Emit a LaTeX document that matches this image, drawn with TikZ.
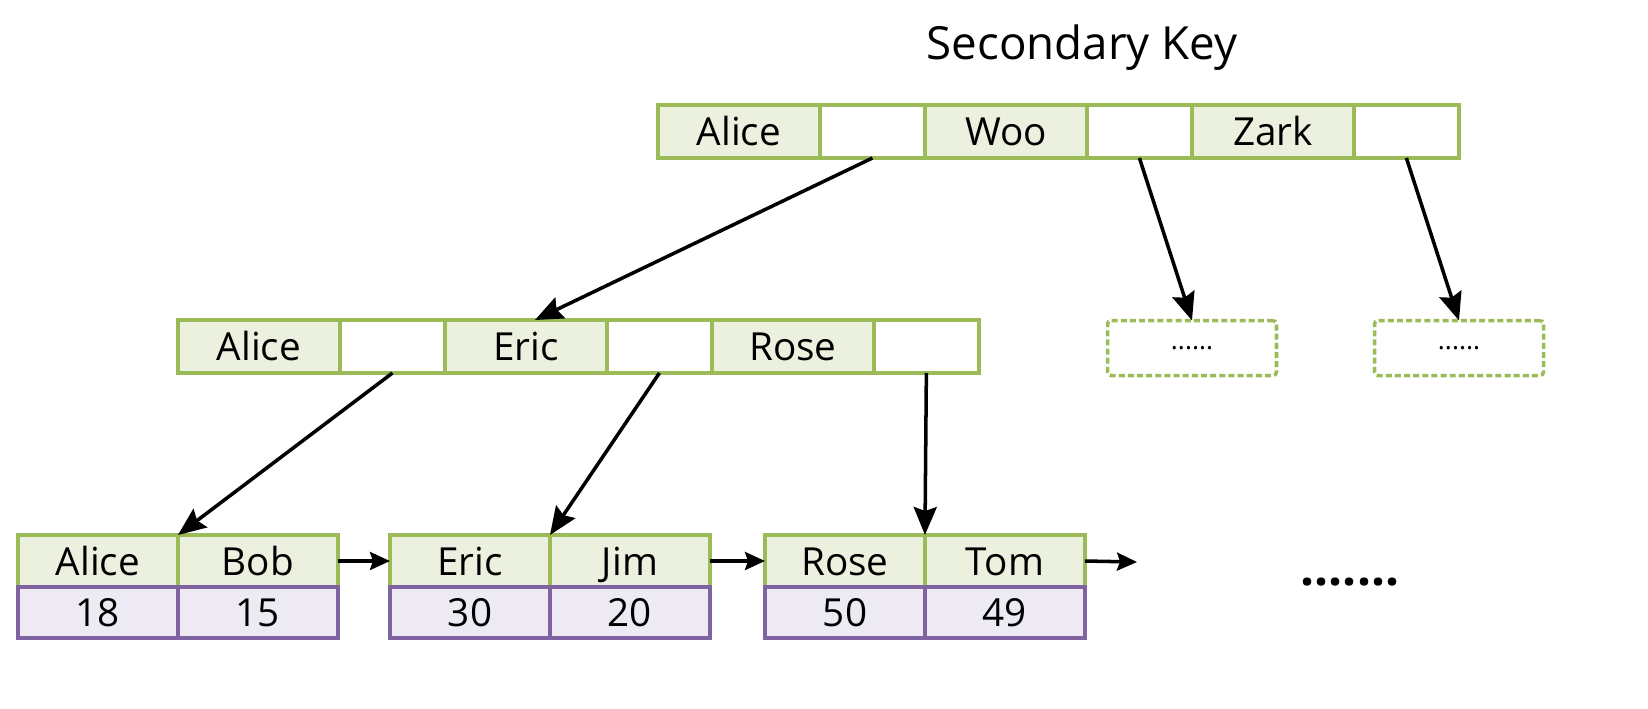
\documentclass[tikz,border=0pt]{standalone}
\usepackage{fontspec}
\setmainfont{Open Sans}
\usetikzlibrary{
  positioning,
  arrows.meta
}
\definecolor{keyline}{HTML}{9BBB59}
\definecolor{keyfill}{HTML}{EBF1DE}
\definecolor{valline}{HTML}{8064A2}
\definecolor{valfill}{HTML}{EEEAF3}

\begin{document}
\begin{tikzpicture}[x=0.02cm, y=-0.02cm,
    every node/.style = {shape=rectangle, inner sep=0pt, outer sep=0pt,
      font=\fontsize{22}{26}\selectfont},
    cell/.style = {draw=keyline, line width=2pt, minimum height=1.06cm,
      text height=16pt, text depth=0pt},
    keycell/.style = {cell, fill=keyfill, minimum width=3.24cm},
    ptrcell/.style = {cell, fill=white, minimum width=2.1cm},
    leafkey/.style = {cell, fill=keyfill, minimum width=3.2cm, minimum height=1.04cm},
    leafval/.style = {draw=valline, line width=2pt, fill=valfill,
      minimum width=3.2cm, minimum height=1.02cm, text height=16pt, text depth=0pt},
    more/.style = {draw=keyline, line width=2pt, dash pattern=on 3.4pt off 1.8pt,
      rounded corners=2pt, minimum width=3.38cm, minimum height=1.1cm,
      font=\fontsize{15}{17}\selectfont},
    ptr/.style = {line width=2pt, -{Stealth[length=0.56cm, width=0.46cm, inset=0.08cm]}},
    nxt/.style = {line width=2pt, -{Stealth[length=0.4cm, width=0.36cm, inset=0.06cm]}}]
  \useasboundingbox (0,0) rectangle (1648,708);

  \node at (1082,48) {\fontsize{26}{30}\selectfont Secondary Key};

  % root
  \node[keycell, anchor=north west] (t1) at (658,105) {Alice};
  \node[ptrcell, right=0pt of t1] (t2) {};
  \node[keycell, right=0pt of t2] (t3) {Woo};
  \node[ptrcell, right=0pt of t3] (t4) {};
  \node[keycell, right=0pt of t4] (t5) {Zark};
  \node[ptrcell, right=0pt of t5] (t6) {};

  % inner node
  \node[keycell, anchor=north west] (m1) at (178,320) {Alice};
  \node[ptrcell, right=0pt of m1] (m2) {};
  \node[keycell, right=0pt of m2] (m3) {Eric};
  \node[ptrcell, right=0pt of m3] (m4) {};
  \node[keycell, right=0pt of m4] (m5) {Rose};
  \node[ptrcell, right=0pt of m5] (m6) {};

  \node[more] (d1) at (1192,348) {......};
  \node[more] (d2) at (1459,348) {......};

  % leaves
  \node[leafkey, anchor=north west] (a1) at (18,535) {Alice};
  \node[leafkey, right=0pt of a1] (a2) {Bob};
  \node[leafval, below=0pt of a1] (a1v) {18};
  \node[leafval, below=0pt of a2] (a2v) {15};

  \node[leafkey, anchor=north west] (b1) at (390,535) {Eric};
  \node[leafkey, right=0pt of b1] (b2) {Jim};
  \node[leafval, below=0pt of b1] (b1v) {30};
  \node[leafval, below=0pt of b2] (b2v) {20};

  \node[leafkey, anchor=north west] (c1) at (765,535) {Rose};
  \node[leafkey, right=0pt of c1] (c2) {Tom};
  \node[leafval, below=0pt of c1] (c1v) {50};
  \node[leafval, below=0pt of c2] (c2v) {49};

  \coordinate (cend) at (1137,562);
  \node[anchor=base] (dots) at (1350,585) {\fontsize{28}{32}\selectfont\bfseries .......};

  \draw[ptr] (t2.south) -- ([xshift=0.18cm]m3.north);
  \draw[ptr] (t4.south) -- (d1.north);
  \draw[ptr] (t6.south) -- (d2.north);
  \draw[ptr] (m2.south) -- (a1.north east);
  \draw[ptr] (m4.south) -- (b1.north east);
  \draw[ptr] (m6.south) -- (c1.north east);
  \draw[nxt] (a2.east) -- (b1.west);
  \draw[nxt] (b2.east) -- (c1.west);
  \draw[nxt] (c2.east) -- (cend);
\end{tikzpicture}
\end{document}
